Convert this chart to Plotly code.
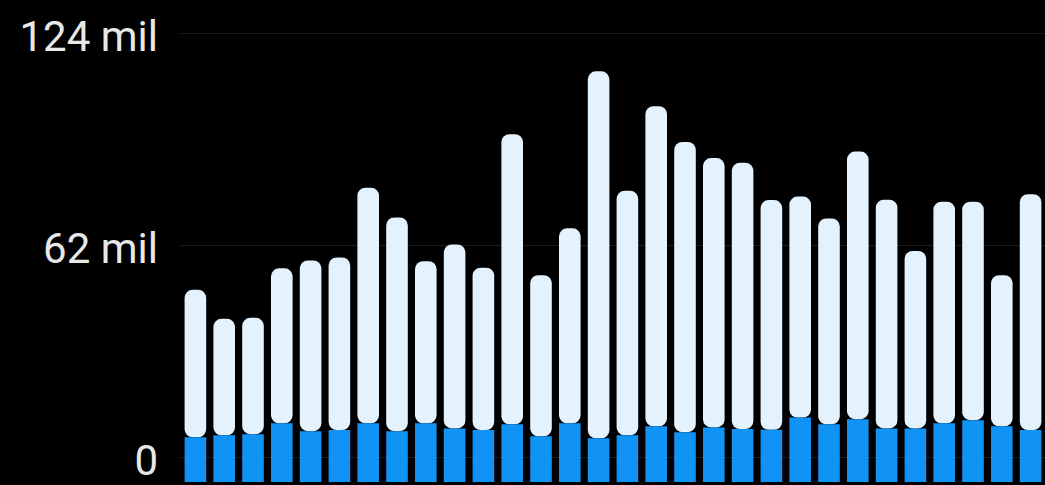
import plotly.graph_objects as go

# Data (values in millions)
categories = list(range(1, 31))
total_values = [49.0, 40.5, 40.8, 55.3, 57.6, 58.5, 78.9, 70.2, 57.4, 62.3,
                55.5, 94.6, 53.3, 67.0, 113.0, 78.0, 102.8, 92.3, 87.6, 86.2,
                75.3, 76.3, 69.9, 89.5, 75.4, 60.4, 74.8, 74.8, 53.3, 77.0]
blue_values = [5.8, 6.4, 6.7, 9.9, 7.6, 7.9, 9.9, 7.6, 9.9, 8.4,
               7.9, 9.6, 6.1, 9.9, 5.5, 6.4, 9.0, 7.3, 8.7, 8.2,
               8.0, 11.6, 9.6, 11.1, 8.4, 8.4, 9.9, 10.8, 9.0, 7.9]
tick_vals = [0, 62, 124]
tick_text = ["0", "62 mil", "124 mil"]

Y_MIN, Y_MAX = -7.3, 133.9

blue_len = [b - Y_MIN for b in blue_values]
light_len = [t - b for t, b in zip(total_values, blue_values)]

fig = go.Figure()
fig.add_trace(go.Bar(x=categories, y=light_len, base=blue_values,
                     marker=dict(color="#e3f2fd", cornerradius=8, line=dict(width=0)),
                     showlegend=False))
fig.add_trace(go.Bar(x=categories, y=blue_len, base=[Y_MIN] * len(categories),
                     marker=dict(color="#1193f5", line=dict(width=0)),
                     showlegend=False))

fig.update_layout(
    width=1045, height=485,
    margin=dict(l=181, r=0, t=0, b=0),
    paper_bgcolor="#000000", plot_bgcolor="#000000",
    barmode="overlay", bargap=0.25,
    font=dict(family="Roboto", color="#e8e8e8", size=42),
)
fig.update_xaxes(range=[0.5, 30.5], showticklabels=False, showgrid=False,
                 zeroline=False, showline=False, ticks="")
fig.update_yaxes(range=[Y_MIN, Y_MAX], tickvals=tick_vals, ticktext=tick_text,
                 showgrid=True, gridcolor="#1c1c1c", gridwidth=1,
                 zeroline=False, showline=False, ticks="",
                 ticklabelstandoff=22, ticklabelshift=3,
                 ticklabeloverflow="allow")

fig.write_html(
    "out.html",
    config={"displayModeBar": False},
    post_script="document.body.style.margin='0';document.body.style.background='#000';document.body.style.overflow='hidden';",
)
